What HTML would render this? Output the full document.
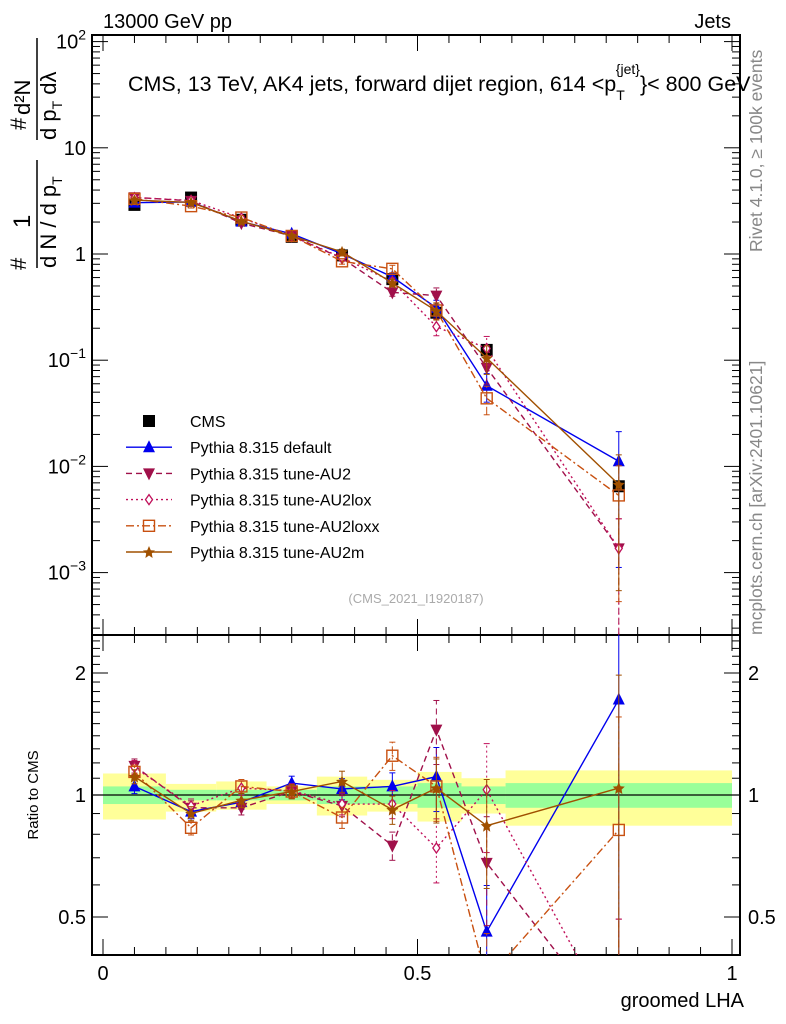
<!DOCTYPE html>
<html><head><meta charset="utf-8"><style>
html,body{margin:0;padding:0;background:#fff;overflow:hidden;}
svg{display:block;}
svg text{font-family:"Liberation Sans",sans-serif;}
</style></head><body>
<svg id="c" width="786" height="1024" xmlns="http://www.w3.org/2000/svg">
<g id="bands"></g>
<g id="axes"></g>
<g id="series"></g>
<text x="103" y="28" font-size="20">13000 GeV pp</text>
<text x="731" y="28" font-size="20" text-anchor="end">Jets</text>
<text x="128" y="91" font-size="21.5">CMS, 13 TeV, AK4 jets, forward dijet region, 614 &lt;p<tspan dy="9" font-size="14">T</tspan><tspan dy="-26" dx="-9" font-size="14">{jet}</tspan><tspan dy="17">}&lt; 800 GeV</tspan></text>
<text x="416" y="603" font-size="13" fill="#aaa" text-anchor="middle">(CMS_2021_I1920187)</text>
<text transform="translate(762,252) rotate(-90)" font-size="17.5" fill="#888">Rivet 4.1.0, ≥ 100k events</text>
<text transform="translate(762,635) rotate(-90)" font-size="17.5" fill="#888">mcplots.cern.ch [arXiv:2401.10621]</text>
<g font-size="22">
<text transform="translate(26,270) rotate(-90)">#</text>
<text transform="translate(30,228) rotate(-90)" font-size="24">1</text>
<line x1="37" y1="268" x2="37" y2="160" stroke="#000" stroke-width="1.5"/>
<text transform="translate(56,268) rotate(-90)">d N / d p<tspan dy="6" font-size="14">T</tspan></text>
<text transform="translate(26,130) rotate(-90)">#</text>
<line x1="37" y1="140" x2="37" y2="38" stroke="#000" stroke-width="1.5"/>
<text transform="translate(30,115) rotate(-90)">d²N</text>
<text transform="translate(56,140) rotate(-90)">d p<tspan dy="6" font-size="14">T</tspan><tspan dy="-6"> dλ</tspan></text>
</g>
<text transform="translate(38,795) rotate(-90)" font-size="15" text-anchor="middle">Ratio to CMS</text>
<text x="744" y="1007" font-size="20" text-anchor="end">groomed LHA</text>
<g id="legend"></g>
</svg>
<script>
const edges=[0,0.1,0.18,0.26,0.34,0.42,0.5,0.57,0.64,1.0];
const xc=[0.05,0.14,0.22,0.30,0.38,0.46,0.53,0.61,0.82];
const cms=[2.9,3.4,2.1,1.45,0.97,0.58,0.28,0.125,0.0065];
const yelUp=[0.13,0.065,0.08,0.05,0.11,0.09,0.14,0.1,0.15];
const yelDn=[0.13,0.09,0.08,0.05,0.11,0.09,0.14,0.1,0.16];
const grnUp=[0.05,0.03,0.03,0.03,0.05,0.05,0.07,0.05,0.07];
const grnDn=[0.05,0.03,0.03,0.03,0.05,0.05,0.07,0.05,0.07];
const rDefault=[1.05,0.91,0.96,1.07,1.035,1.05,1.11,0.46,1.72];
const rAU2=[1.18,0.93,0.93,1.02,0.94,0.75,1.45,0.68,0.26];
const rAU2lox=[1.17,0.94,1.04,1.025,0.95,0.95,0.74,1.03,0.26];
const rAU2loxx=[1.14,0.83,1.05,1.02,0.88,1.25,1.05,0.35,0.82];
const rAU2m=[1.11,0.9,0.97,1.02,1.08,0.92,1.04,0.84,1.04];
const relErr=[0.04,0.04,0.04,0.04,0.06,0.08,0.18,0.3,0.9];
const xTicks=[0,0.5,1];
const yTicks=[2,1,0,-1,-2,-3];
const rTicks=[2,1,0.5];

const NS="http://www.w3.org/2000/svg";
const X=v=>103+629*v;
const Y=v=>254-106.2*Math.log10(v);
const R=v=>795-122*Math.log2(v);
const L=92,RT=740,T=35,MB=635,BB=955;
function mk(p,tag,a){const e=document.createElementNS(NS,tag);for(const k in a)e.setAttribute(k,a[k]);p.appendChild(e);return e;}
const ax=document.getElementById('axes'),bd=document.getElementById('bands'),sr=document.getElementById('series'),lg=document.getElementById('legend');
for(let i=0;i<xc.length;i++){
 const y1=mk(bd,'rect',{x:X(edges[i]),width:X(edges[i+1])-X(edges[i]),y:R(1+yelUp[i]),height:R(1-yelDn[i])-R(1+yelUp[i]),fill:'#ffff99'});
 
 const g1=mk(bd,'rect',{x:X(edges[i]),width:X(edges[i+1])-X(edges[i]),y:R(1+grnUp[i]),height:R(1-grnDn[i])-R(1+grnUp[i]),fill:'#99ff99'});
 
}
mk(ax,'line',{x1:L,x2:RT,y1:R(1),y2:R(1),stroke:'#000','stroke-width':1.2});
mk(ax,'rect',{x:L,y:T,width:RT-L,height:MB-T,fill:'none',stroke:'#000','stroke-width':2});
mk(ax,'rect',{x:L,y:MB,width:RT-L,height:BB-MB,fill:'none',stroke:'#000','stroke-width':2});
for(let k=0;k<=20;k++){const v=k*0.05,x=X(v),maj=k%10==0,len=maj?16:8;
 for(const [yb,d] of [[BB,-1],[MB,-1],[MB,1],[T,1]]) mk(ax,'line',{x1:x,x2:x,y1:yb,y2:yb+d*len,stroke:'#000'});}
xTicks.forEach(v=>{const t=mk(ax,'text',{x:X(v),y:980,'font-size':20,'text-anchor':'middle'});t.textContent=v;
 });
for(let e=-4;e<=2;e++){for(let m=1;m<10;m++){const v=m*Math.pow(10,e),y=Y(v);if(y<T||y>MB)continue;const len=m==1?16:8;
 mk(ax,'line',{x1:L,x2:L+len,y1:y,y2:y,stroke:'#000'});mk(ax,'line',{x1:RT,x2:RT-len,y1:y,y2:y,stroke:'#000'});}}
yTicks.forEach(e=>{const t=mk(ax,'text',{x:86,y:Y(Math.pow(10,e))+7,'font-size':20,'text-anchor':'end'});
 
 if(e==0)t.textContent='1';else if(e==1)t.textContent='10';else{t.textContent='10';const s=mk(t,'tspan',{dy:-9,'font-size':14});s.textContent=e==2?'2':'−'+(-e);}
});
for(let v=0.4;v<=2.5;v+=0.1){const y=R(v);if(y<MB||y>BB)continue;const big=[0.5,1,2].some(q=>Math.abs(q-v)<1e-6);const len=big?16:8;
 mk(ax,'line',{x1:L,x2:L+len,y1:y,y2:y,stroke:'#000'});mk(ax,'line',{x1:RT,x2:RT-len,y1:y,y2:y,stroke:'#000'});}
rTicks.forEach(v=>{for(const [x,a] of [[86,'end'],[748,'start']]){const t=mk(ax,'text',{x:x,y:R(v)+7,'font-size':20,'text-anchor':a});t.textContent=v;
 }});
const defs=mk(document.getElementById('c'),'defs',{});
const c1=mk(defs,'clipPath',{id:'cm'});mk(c1,'rect',{x:L,y:T,width:RT-L,height:MB-T});
const c2=mk(defs,'clipPath',{id:'cr'});mk(c2,'rect',{x:L,y:MB,width:RT-L,height:BB-MB});
const gm=mk(sr,'g',{'clip-path':'url(#cm)'}),gr=mk(sr,'g',{'clip-path':'url(#cr)'});
function marker(g,type,x,y,col){
 if(type=='sq')return mk(g,'rect',{x:x-6,y:y-6,width:12,height:12,fill:col});
 if(type=='tri')return mk(g,'path',{d:`M${x},${y-7}L${x+6},${y+5}L${x-6},${y+5}Z`,fill:col});
 if(type=='dtri')return mk(g,'path',{d:`M${x},${y+7}L${x+6},${y-5}L${x-6},${y-5}Z`,fill:col});
 if(type=='dia')return mk(g,'path',{d:`M${x},${y-5}L${x+3.5},${y}L${x},${y+5}L${x-3.5},${y}Z`,fill:'#fff',stroke:col,'stroke-width':1.3});
 if(type=='osq')return mk(g,'rect',{x:x-5.5,y:y-5.5,width:11,height:11,fill:'none',stroke:col,'stroke-width':1.4});
 if(type=='star')return mk(g,'path',{d:`M${x},${y-6}L${x+1.8},${y-1.8}L${x+6},${y-1.5}L${x+2.8},${y+1.5}L${x+3.6},${y+6}L${x},${y+3.5}L${x-3.6},${y+6}L${x-2.8},${y+1.5}L${x-6},${y-1.5}L${x-1.8},${y-1.8}Z`,fill:col});
}
const series=[
 {name:'Pythia 8.315 default',r:rDefault,col:'#0000ee',m:'tri',dash:'',id:'default'},
 {name:'Pythia 8.315 tune-AU2',r:rAU2,col:'#a0104a',m:'dtri',dash:'6,4',id:'au2'},
 {name:'Pythia 8.315 tune-AU2lox',r:rAU2lox,col:'#c0105a',m:'dia',dash:'2,3',id:'au2lox'},
 {name:'Pythia 8.315 tune-AU2loxx',r:rAU2loxx,col:'#c85010',m:'osq',dash:'8,3,2,3',id:'au2loxx'},
 {name:'Pythia 8.315 tune-AU2m',r:rAU2m,col:'#a05000',m:'star',dash:'',id:'au2m'}];
xc.forEach((x,i)=>{
 const m=marker(gm,'sq',X(x),Y(cms[i]),'#000');
 
});
series.forEach(s=>{
 const ptsM=xc.map((x,i)=>X(x)+','+Y(cms[i]*s.r[i])).join(' ');
 const ptsR=xc.map((x,i)=>X(x)+','+R(s.r[i])).join(' ');
 const pl=mk(gm,'polyline',{points:ptsM,fill:'none',stroke:s.col,'stroke-width':1.4,'stroke-dasharray':s.dash});
 
 const pr=mk(gr,'polyline',{points:ptsR,fill:'none',stroke:s.col,'stroke-width':1.4,'stroke-dasharray':s.dash});
 
 xc.forEach((x,i)=>{
  const v=cms[i]*s.r[i],e=relErr[i];
  for(const [g,f,val] of [[gm,Y,v],[gr,R,s.r[i]]]){
   const lo=Math.max(val*(1-e),val*0.01),hi=val*(1+e);
   mk(g,'line',{x1:X(x),x2:X(x),y1:f(lo),y2:f(hi),stroke:s.col,'stroke-dasharray':s.dash});
   mk(g,'line',{x1:X(x)-3,x2:X(x)+3,y1:f(hi),y2:f(hi),stroke:s.col});mk(g,'line',{x1:X(x)-3,x2:X(x)+3,y1:f(lo),y2:f(lo),stroke:s.col});
  }
  const m1=marker(gm,s.m,X(x),Y(v),s.col);
  
  const m2=marker(gr,s.m,X(x),R(s.r[i]),s.col);
  
 });
});
const lt=[{name:'CMS',m:'sq',col:'#000',dash:null}].concat(series);
lt.forEach((s,k)=>{const y=421+26.2*k;
 if(s.dash!==null)mk(lg,'line',{x1:126,x2:172,y1:y,y2:y,stroke:s.col,'stroke-width':1.4,'stroke-dasharray':s.dash});
 marker(lg,s.m,149,y,s.col);
 const t=mk(lg,'text',{x:190,y:y+6,'font-size':16});t.textContent=s.name;
 });
</script>
</body></html>
